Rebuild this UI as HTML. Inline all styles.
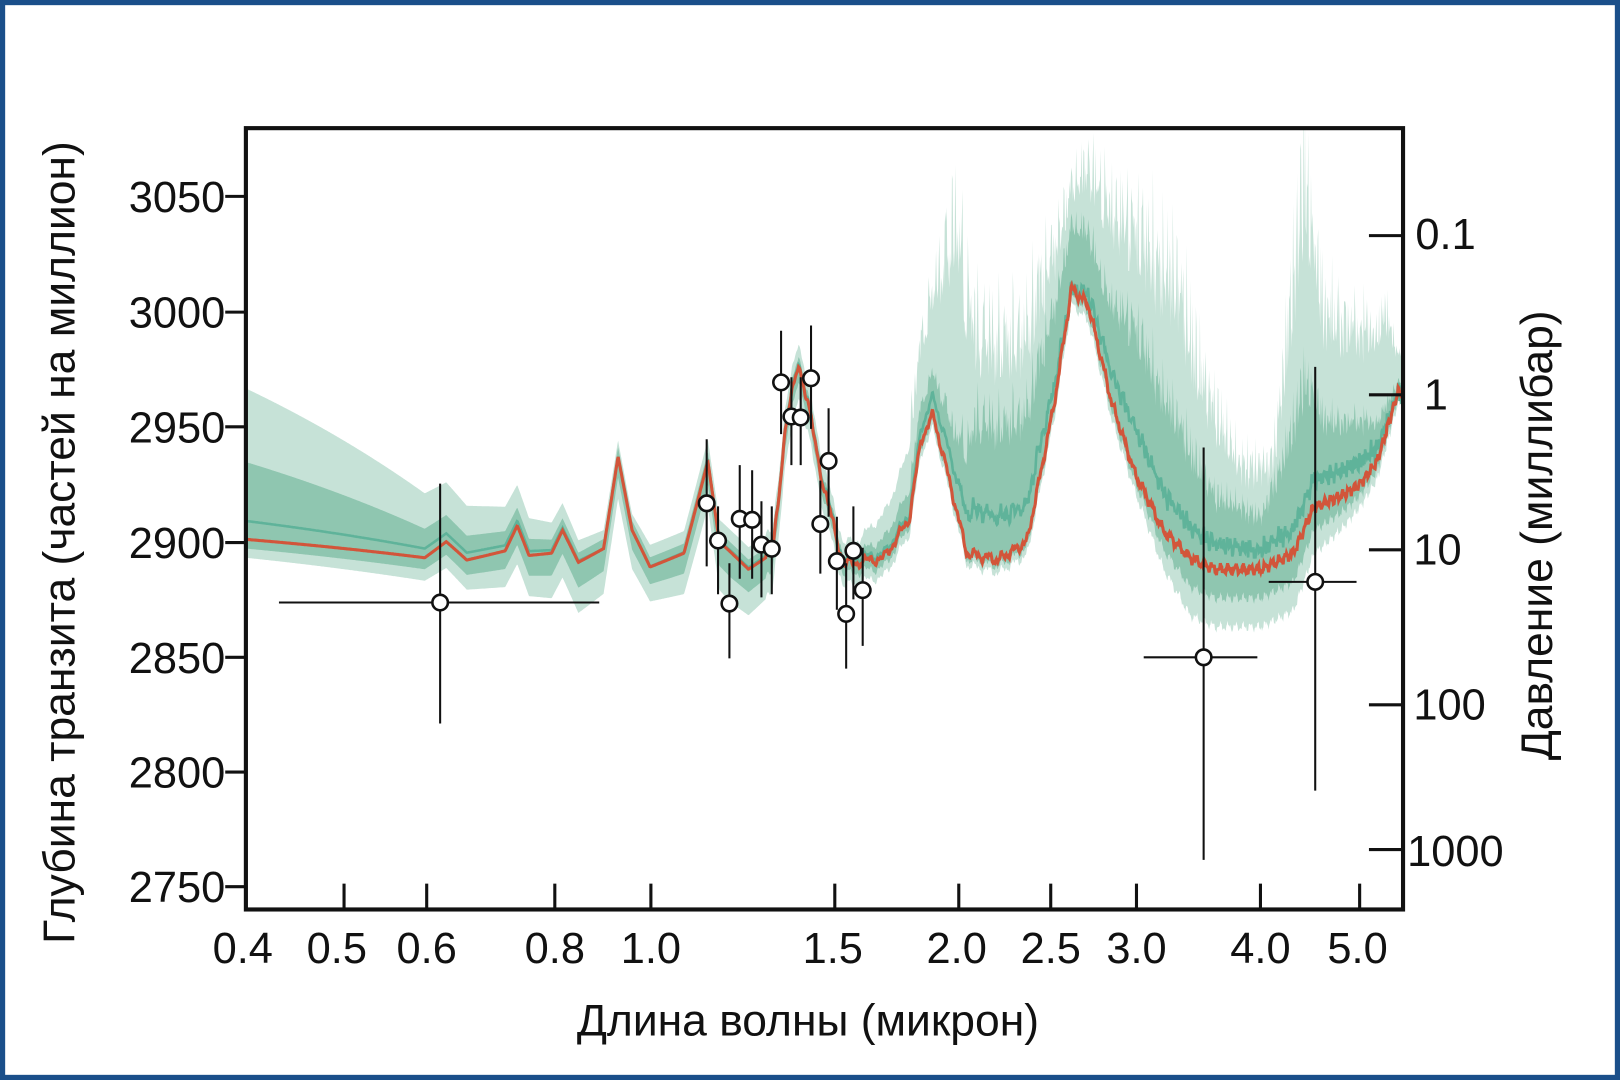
<!DOCTYPE html>
<html><head><meta charset="utf-8"><style>
html,body{margin:0;padding:0;background:#fff;}
svg{display:block}
text{font-family:"Liberation Sans",sans-serif;fill:#111}
</style></head><body>
<svg id="s" width="1620" height="1080" viewBox="0 0 1568 1045" preserveAspectRatio="none" xmlns="http://www.w3.org/2000/svg">
<rect x="2.5" y="2.5" width="1563" height="1040" fill="#fff" stroke="#1a4f8a" stroke-width="5"/>
<defs><clipPath id="c"><rect x="238" y="124" width="1120" height="756"/></clipPath></defs>
<g id="bands" clip-path="url(#c)"></g>
<g id="pts"></g>
<rect x="238" y="124" width="1120" height="756" fill="none" stroke="#111" stroke-width="4"/>
<g id="ax" stroke="#111" stroke-width="3"></g>
<g font-size="42">
<text x="218" y="205" text-anchor="end">3050</text>
<text x="218" y="317" text-anchor="end">3000</text>
<text x="218" y="428" text-anchor="end">2950</text>
<text x="218" y="540" text-anchor="end">2900</text>
<text x="218" y="651" text-anchor="end">2850</text>
<text x="218" y="762" text-anchor="end">2800</text>
<text x="218" y="873" text-anchor="end">2750</text>
<text x="1370" y="241">0.1</text>
<text x="1378" y="396">1</text>
<text x="1368" y="546">10</text>
<text x="1368" y="696">100</text>
<text x="1362" y="838">1000</text>
<g text-anchor="middle">
<text x="235" y="932">0.4</text><text x="326" y="932">0.5</text><text x="413" y="932">0.6</text>
<text x="537" y="932">0.8</text><text x="630" y="932">1.0</text><text x="806" y="932">1.5</text>
<text x="926" y="932">2.0</text><text x="1017" y="932">2.5</text><text x="1100" y="932">3.0</text>
<text x="1220" y="932">4.0</text><text x="1314" y="932">5.0</text>
</g>
</g>
<g font-size="43">
<text x="782" y="1002" text-anchor="middle">Длина волны (микрон)</text>
<text transform="translate(72,525) rotate(-90)" text-anchor="middle">Глубина транзита (частей на миллион)</text>
<text transform="translate(1502,518) rotate(-90)" text-anchor="middle">Давление (миллибар)</text>
</g>
</svg>
<script>
const NS="http://www.w3.org/2000/svg";
const X=l=>238+983*Math.log10(l/0.4);
const Y=p=>858-(p-2750)*111.3/50;
function interp(pts,l){for(let i=0;i<pts.length-1;i++){if(l<=pts[i+1][0]){const t=(l-pts[i][0])/(pts[i+1][0]-pts[i][0]);return pts[i][1]+t*(pts[i+1][1]-pts[i][1]);}}return pts[pts.length-1][1];}
const red=[[0.4,2901],[0.5,2897],[0.6,2893],[0.63,2900],[0.66,2892],[0.72,2896],[0.74,2907],[0.76,2894],[0.8,2895],[0.82,2905],[0.85,2891],[0.9,2897],[0.93,2937],[0.96,2905],[1.0,2889],[1.08,2895],[1.14,2935],[1.17,2900],[1.25,2888],[1.32,2895],[1.36,2950],[1.4,2978],[1.43,2960],[1.48,2925],[1.55,2890],[1.7,2893],[1.8,2910],[1.85,2945],[1.9,2955],[1.95,2935],[2.05,2895],[2.2,2892],[2.35,2900],[2.5,2960],[2.6,3010],[2.7,3003],[2.85,2960],[3.0,2930],[3.2,2905],[3.4,2893],[3.6,2888],[4.0,2888],[4.3,2895],[4.5,2915],[4.8,2920],[5.0,2925],[5.2,2935],[5.45,2965]];
const L=[[0.4,82],[0.6,35],[0.85,12],[0.95,8],[1.0,12],[1.6,12],[1.75,30],[1.9,60],[2.0,140],[2.1,110],[2.4,100],[2.6,50],[2.8,85],[3.0,120],[3.3,130],[3.5,90],[3.8,52],[4.1,50],[4.4,170],[4.6,95],[5.0,75],[5.3,60],[5.45,20]];
const M=[[0.4,40],[0.6,15],[0.85,5],[1.6,5],[1.9,20],[2.0,35],[2.1,65],[2.4,60],[2.6,30],[2.8,40],[3.0,70],[3.3,60],[3.6,35],[4.0,25],[4.4,70],[4.6,40],[5.0,30],[5.45,5]];
const D=[[0.4,-8],[0.6,-10],[0.85,-22],[1.0,-15],[1.2,-22],[1.5,-10],[2.0,-5],[3.0,-8],[3.4,-25],[4.3,-25],[5.0,-10],[5.45,-5]];
const MED=[[0.4,8],[0.6,4],[0.9,0],[1.8,2],[2.1,20],[2.4,15],[2.6,0],[3.0,20],[3.5,12],[4.0,8],[4.5,12],[5.0,10],[5.45,0]];
function nz(l,a){return a*(Math.sin(l*97)*0.5+Math.sin(l*233)*0.3+Math.sin(l*511)*0.2);}
const ls=[];for(let l=0.4;l<=5.5;l*=1.0015)ls.push(l);
const r=ls.map(l=>interp(red,l)+(l>1.3?nz(l,3):0));
function band(up,lo,col){let d="M";ls.forEach((l,i)=>d+=X(l).toFixed(1)+","+Y(up(l,i)).toFixed(1)+" L");for(let i=ls.length-1;i>=0;i--)d+=X(ls[i]).toFixed(1)+","+Y(lo(ls[i],i)).toFixed(1)+(i?" L":"Z");const p=document.createElementNS(NS,"path");p.setAttribute("d",d);p.setAttribute("fill",col);document.getElementById("bands").appendChild(p);}
const sp=l=>l>1.8?Math.abs(nz(l*1.3,1)):0.2;
band((l,i)=>r[i]+interp(L,l)*(0.7+0.5*sp(l)),(l,i)=>r[i]+interp(D,l),"#c6e2d7");
band((l,i)=>r[i]+interp(M,l)*(0.75+0.45*sp(l)),(l,i)=>r[i]+interp(D,l)*0.5,"#8fc6b0");
function line(f,col,w){let d="M"+ls.map((l,i)=>X(l).toFixed(1)+","+Y(f(l,i)).toFixed(1)).join(" L");const p=document.createElementNS(NS,"path");p.setAttribute("d",d);p.setAttribute("fill","none");p.setAttribute("stroke",col);p.setAttribute("stroke-width",w);document.getElementById("bands").appendChild(p);}
line((l,i)=>r[i]+interp(MED,l)+(l>2?nz(l*2,4):0),"#5fb39a",2.5);
line((l,i)=>r[i],"#d2553a",3);
const ax=document.getElementById("ax");
function ln(a,b,c,d){const e=document.createElementNS(NS,"line");e.setAttribute("x1",a);e.setAttribute("y1",b);e.setAttribute("x2",c);e.setAttribute("y2",d);ax.appendChild(e);}
[190,302,413,525,636,747,858].forEach(y=>ln(218,y,238,y));
[228,382,532,682,822].forEach(y=>ln(1325,y,1358,y));
[238,333,413,537,630,808,928,1017,1100,1220,1316].forEach(x=>ln(x,855,x,880));
const P=[[426,583,270,580,468,700],[684,487,0,0,425,548],[695,523,0,0,490,575],[706,584,0,0,545,637],[716,502,0,0,450,560],[728,503,0,0,455,560],[737,527,0,0,485,578],[747,531,0,0,490,575],[756,370,0,0,320,420],[766,403,0,0,365,450],[775,404,0,0,365,450],[785,366,0,0,315,415],[802,446,0,0,395,500],[794,507,0,0,465,555],[810,543,0,0,500,590],[819,594,0,0,545,647],[826,533,0,0,490,580],[835,571,0,0,530,625],[1165,636,1107,1217,433,832],[1273,563,1228,1313,355,765]];
const g=document.getElementById("pts");
P.forEach(p=>{const a=(x1,y1,x2,y2)=>{const e=document.createElementNS(NS,"line");e.setAttribute("x1",x1);e.setAttribute("y1",y1);e.setAttribute("x2",x2);e.setAttribute("y2",y2);e.setAttribute("stroke","#111");e.setAttribute("stroke-width",2);g.appendChild(e);};
a(p[0],p[4],p[0],p[5]);if(p[2])a(p[2],p[1],p[3],p[1]);});
P.forEach(p=>{const c=document.createElementNS(NS,"circle");c.setAttribute("cx",p[0]);c.setAttribute("cy",p[1]);c.setAttribute("r",7.5);c.setAttribute("fill","#fff");c.setAttribute("stroke","#111");c.setAttribute("stroke-width",2.5);g.appendChild(c);});
</script>
</body></html>
